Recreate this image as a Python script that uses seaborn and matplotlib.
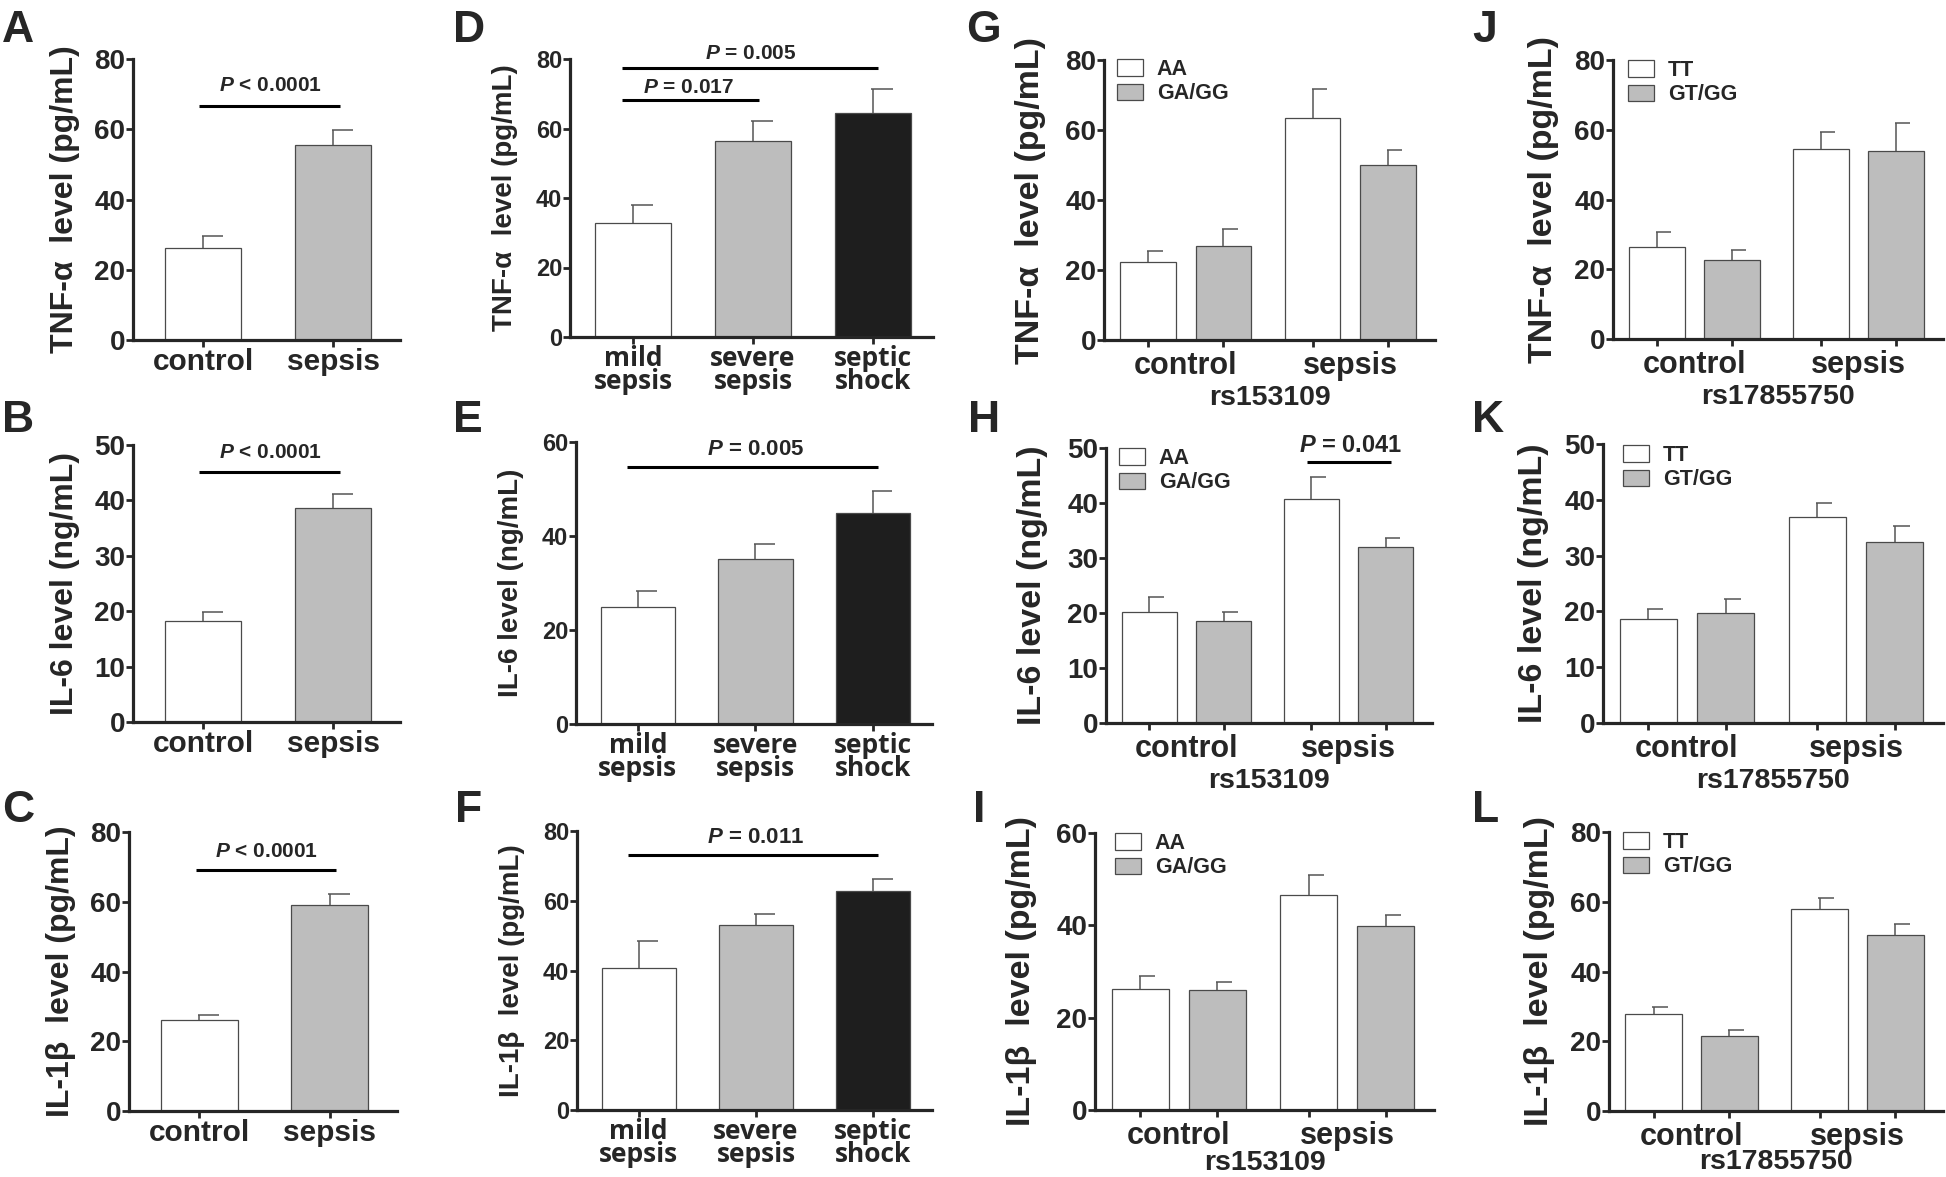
import numpy as np
import pandas as pd
import matplotlib
matplotlib.use('Agg')
import matplotlib.pyplot as plt
from matplotlib.patches import Patch
import seaborn as sns

# ---- values (mean, SEM) ----
groups = ['control', 'sepsis']
severity = ['mild\nsepsis', 'severe\nsepsis', 'septic\nshock']

# A-C: control vs sepsis
tnf_cs, tnf_cs_sem = [26.3, 55.6], [3.2, 4.2]
il6_cs, il6_cs_sem = [18.3, 38.6], [1.5, 2.5]
il1b_cs, il1b_cs_sem = [26.2, 59.2], [1.4, 2.9]

# D-F: sepsis severity
tnf_sev, tnf_sev_sem = [32.8, 56.3, 64.4], [5.3, 6.0, 7.0]
il6_sev, il6_sev_sem = [24.8, 35.2, 44.8], [3.5, 3.0, 4.7]
il1b_sev, il1b_sev_sem = [40.8, 53.0, 62.7], [7.7, 3.1, 3.4]

# G-I: rs153109 (AA, GA/GG) for control, sepsis
rs1_geno = ['AA', 'GA/GG']
tnf_aa, tnf_aa_sem = [22.2, 63.3], [3.3, 8.4]
tnf_ga, tnf_ga_sem = [27.0, 50.1], [4.6, 4.1]
il6_aa, il6_aa_sem = [20.2, 40.7], [2.7, 4.0]
il6_ga, il6_ga_sem = [18.5, 32.0], [1.7, 1.7]
il1b_aa, il1b_aa_sem = [26.2, 46.5], [2.9, 4.3]
il1b_ga, il1b_ga_sem = [26.0, 39.9], [1.8, 2.3]

# J-L: rs17855750 (TT, GT/GG) for control, sepsis
rs2_geno = ['TT', 'GT/GG']
tnf_tt, tnf_tt_sem = [26.4, 54.6], [4.4, 4.7]
tnf_gt, tnf_gt_sem = [22.7, 53.9], [2.9, 8.1]
il6_tt, il6_tt_sem = [18.7, 37.0], [1.8, 2.5]
il6_gt, il6_gt_sem = [19.8, 32.5], [2.4, 2.8]
il1b_tt, il1b_tt_sem = [27.8, 58.0], [2.0, 3.1]
il1b_gt, il1b_gt_sem = [21.6, 50.5], [1.7, 3.0]

tnf_label = 'TNF-\u03b1  level (pg/mL)'
il6_label = 'IL-6 level (ng/mL)'
il1b_label = 'IL-1\u03b2  level (pg/mL)'

WHITE, GRAY, BLACK = '#ffffff', '#bdbdbd', '#1e1e1e'
EDGE, ERR = '#4a4a4a', '#555555'

sns.set_style('ticks')
plt.rcParams['font.family'] = ['Liberation Sans', 'DejaVu Sans']
plt.rcParams['font.weight'] = 'bold'
plt.rcParams['axes.labelweight'] = 'bold'
plt.rcParams['mathtext.fontset'] = 'custom'
plt.rcParams['mathtext.it'] = 'Liberation Sans:italic:bold'
plt.rcParams['mathtext.rm'] = 'Liberation Sans:bold'

W, H = 1946, 1177
fig = plt.figure(figsize=(W / 100, H / 100), dpi=100)


def make_ax(l, t, r, b):
    return fig.add_axes([l / W, 1 - b / H, (r - l) / W, (b - t) / H])


def style(ax, ymax, ystep, ylabel, tick_fs, label_fs, off_px):
    ax.set_ylim(0, ymax)
    ax.set_yticks(np.arange(0, ymax + 1, ystep))
    sns.despine(ax=ax)
    for s in ['left', 'bottom']:
        ax.spines[s].set_linewidth(2.3)
    ax.tick_params(axis='y', length=5, width=2, pad=0.5, labelsize=tick_fs)
    ax.tick_params(axis='x', which='major', length=5, width=2)
    ax.set_ylabel(ylabel, fontsize=label_fs)
    w = ax.get_position().width * W
    ax.yaxis.set_label_coords(-off_px / w, 0.5)


def err_bars(ax, bars, vals, sems):
    # upper-only SEM bars, cap sits mostly to the right like the original
    for bar, m, e in zip(bars, vals, sems):
        w = bar.get_width()
        cx = bar.get_x() + w / 2
        ax.vlines(cx, m, m + e, color=ERR, lw=1.1, zorder=3)
        ax.hlines(m + e, cx - 0.02 * w, cx + 0.26 * w, color=ERR, lw=1.1, zorder=3)


def simple_panel(ax, cats, vals, sems, colors, width, xlim):
    df = pd.DataFrame({'cat': cats, 'val': vals})
    sns.barplot(data=df, x='cat', y='val', hue='cat', palette=colors, width=width,
                errorbar=None, saturation=1, edgecolor=EDGE, linewidth=0.9,
                legend=False, ax=ax)
    bars = [p for c in ax.containers for p in c]
    err_bars(ax, bars, vals, sems)
    ax.set_xlim(*xlim)
    ax.set_xlabel('')


def snp_panel(ax, geno, v0, s0, v1, s1, rs, pad):
    df = pd.DataFrame({'group': groups * 2,
                       'geno': [geno[0]] * 2 + [geno[1]] * 2,
                       'val': v0 + v1})
    sns.barplot(data=df, x='group', y='val', hue='geno', palette=[WHITE, GRAY],
                width=0.915, gap=0.26, errorbar=None, saturation=1,
                edgecolor=EDGE, linewidth=0.9, legend=False, ax=ax)
    centers = []
    for cont, vals, sems in zip(ax.containers, [v0, v1], [s0, s1]):
        err_bars(ax, list(cont), vals, sems)
        centers += [b.get_x() + b.get_width() / 2 for b in cont]
    ax.set_xticks(sorted(centers))
    ax.set_xticklabels([])
    ax.set_xticks([0, 1], minor=True)
    ax.set_xticklabels(groups, minor=True, fontsize=22)
    ax.tick_params(axis='x', which='minor', length=0, pad=8)
    ax.set_xlim(-0.497, 1.515)
    ax.set_xlabel(rs, fontsize=20.5, labelpad=pad)


def add_legend(ax, labels, rect, x_px, top_px):
    l, t, r, b = rect
    handles = [Patch(facecolor=c, edgecolor=EDGE, linewidth=0.9) for c in [WHITE, GRAY]]
    ax.legend(handles, labels, loc='upper left',
              bbox_to_anchor=((x_px - l) / (r - l), 1 - (top_px - t) / (b - t)),
              frameon=False, fontsize=15.5, handlelength=1.2, handleheight=0.8,
              handletextpad=0.65, labelspacing=0.15, borderpad=0, borderaxespad=0)


def p_bar(ax, x0, x1, y, text, tx, ty, fs):
    ax.plot([x0, x1], [y, y], color='black', lw=2.2, solid_capstyle='butt', clip_on=False)
    ax.text(tx, ty, text, ha='center', va='baseline', fontsize=fs, clip_on=False)


# ---- column 1: control vs sepsis ----
two_xlim = (-0.54, 1.515)
for rect, vals, sems, ymax, step, lab, p in [
        ((133, 59, 400, 340), tnf_cs, tnf_cs_sem, 80, 20, tnf_label, (66.7, 70.9)),
        ((133, 445, 400, 722), il6_cs, il6_cs_sem, 50, 10, il6_label, (45.2, 47.6)),
        ((129, 832, 397, 1111), il1b_cs, il1b_cs_sem, 80, 20, il1b_label, (69.0, 72.8))]:
    ax = make_ax(*rect)
    simple_panel(ax, groups, vals, sems, [WHITE, GRAY], 0.59, two_xlim)
    style(ax, ymax, step, lab, 20, 23, 53)
    ax.tick_params(axis='x', labelsize=21.5, pad=0.5)
    p_bar(ax, -0.03, 1.05, p[0], '$P$ < 0.0001', 0.515, p[1], 15)

# ---- column 2: severity ----
sev_xlim = (-0.525, 2.5)
sev_axes = []
for rect, vals, sems, ymax, step, lab in [
        ((570, 59, 933, 337), tnf_sev, tnf_sev_sem, 80, 20, tnf_label),
        ((576, 442, 932, 724), il6_sev, il6_sev_sem, 60, 20, il6_label),
        ((577, 831, 932, 1110), il1b_sev, il1b_sev_sem, 80, 20, il1b_label)]:
    ax = make_ax(*rect)
    simple_panel(ax, severity, vals, sems, [WHITE, GRAY, BLACK], 0.63, sev_xlim)
    style(ax, ymax, step, lab, 17, 20, 52)
    ax.tick_params(axis='x', labelsize=19, pad=0.5)
    for t in ax.get_xticklabels():
        t.set_fontfamily('Open Sans')
        t.set_linespacing(0.82)
    sev_axes.append(ax)

axD, axE, axF = sev_axes
p_bar(axD, -0.09, 1.05, 68.1, '$P$ = 0.017', 0.46, 70.2, 15)
p_bar(axD, -0.09, 2.04, 77.3, '$P$ = 0.005', 0.98, 80.0, 15)
p_bar(axE, -0.09, 2.04, 54.7, '$P$ = 0.005', 1.0, 57.2, 16)
p_bar(axF, -0.09, 2.04, 73.1, '$P$ = 0.011', 1.0, 76.6, 16)

# ---- column 3: rs153109 ----
panels3 = [((1104, 60, 1435, 340), tnf_aa, tnf_aa_sem, tnf_ga, tnf_ga_sem, 80, 20, tnf_label, 1117, 59, 3),
           ((1106, 448, 1432, 723), il6_aa, il6_aa_sem, il6_ga, il6_ga_sem, 50, 10, il6_label, 1119, 448, 3),
           ((1095, 833, 1434, 1110), il1b_aa, il1b_aa_sem, il1b_ga, il1b_ga_sem, 60, 20, il1b_label, 1115, 833, -1)]
rs1_axes = []
for rect, v0, s0, v1, s1, ymax, step, lab, lx, ly, pad in panels3:
    ax = make_ax(*rect)
    snp_panel(ax, rs1_geno, v0, s0, v1, s1, 'rs153109', pad)
    style(ax, ymax, step, lab, 20, 24.5, 58)
    add_legend(ax, rs1_geno, rect, lx, ly)
    rs1_axes.append(ax)
p_bar(rs1_axes[1], 0.741, 1.26, 47.4, '$P$ = 0.041', 1.015, 49.3, 17)

# ---- column 4: rs17855750 ----
panels4 = [((1613, 60, 1943, 339), tnf_tt, tnf_tt_sem, tnf_gt, tnf_gt_sem, 80, 20, tnf_label, 1628, 60, 3),
           ((1603, 444, 1943, 723), il6_tt, il6_tt_sem, il6_gt, il6_gt_sem, 50, 10, il6_label, 1623, 445, 3),
           ((1609, 832, 1943, 1111), il1b_tt, il1b_tt_sem, il1b_gt, il1b_gt_sem, 80, 20, il1b_label, 1623, 832, -2)]
for rect, v0, s0, v1, s1, ymax, step, lab, lx, ly, pad in panels4:
    ax = make_ax(*rect)
    snp_panel(ax, rs2_geno, v0, s0, v1, s1, 'rs17855750', pad)
    style(ax, ymax, step, lab, 20, 24.5, 54)
    add_legend(ax, rs2_geno, rect, lx, ly)

# ---- panel letters ----
letters = {'A': (2, 42), 'B': (2, 432), 'C': (2, 822),
           'D': (453, 42), 'E': (453, 432), 'F': (455, 822),
           'G': (966, 42), 'H': (968, 432), 'I': (973, 822),
           'J': (1472, 42), 'K': (1472, 432), 'L': (1472, 822)}
for k, (x, y) in letters.items():
    fig.text(x / W, 1 - y / H, k, fontsize=32, fontweight='bold', va='baseline', ha='left')

fig.savefig('out.png', dpi=100, facecolor='white')
